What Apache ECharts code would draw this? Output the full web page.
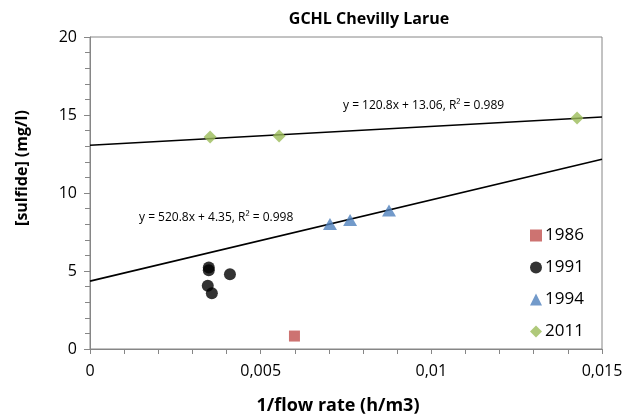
<!DOCTYPE html>
<html><head><meta charset="utf-8">
<script src="https://cdn.jsdelivr.net/npm/echarts@6/dist/echarts.min.js"></script>
<style>html,body{margin:0;padding:0;background:#fff}#c{width:629px;height:419px}</style>
</head><body><div id="c"></div>
<script>
var s1986 = [[0.00599, 0.83]];
var s1991 = [[0.00348, 5.22], [0.00348, 5.05], [0.0041, 4.79], [0.00345, 4.06], [0.00357, 3.57]];
var s1994 = [[0.00703, 8.01], [0.00762, 8.27], [0.00876, 8.88]];
var s2011 = [[0.00352, 13.59], [0.00554, 13.65], [0.01427, 14.81]];
var fit2011 = {slope: 120.8, intercept: 13.06, r2: 0.989};
var fit1994 = {slope: 520.8, intercept: 4.35, r2: 0.998};
var xTicks = ['0', '0,005', '0,01', '0,015'];
var xRange = [0, 0.015];
function line(f){ return xRange.map(function(x){ return [x, f.slope*x + f.intercept]; }); }
function eq(f){ return 'y = ' + f.slope + 'x + ' + f.intercept + ', R² = ' + f.r2; }
var FONT = 'Open Sans, Liberation Sans, sans-serif';
var chart = echarts.init(document.getElementById('c'));
chart.setOption({
  animation: false,
  textStyle: {fontFamily: FONT},
  title: {text: 'GCHL Chevilly Larue', left: 364, top: 6, textAlign: 'center',
    textStyle: {fontSize: 16, fontWeight: 'bold', color: '#000', fontFamily: FONT}},
  grid: {left: 90, right: 27, top: 37, bottom: 70, show: true, borderColor: '#868686', borderWidth: 1},
  xAxis: {type: 'value', min: 0, max: 0.015, interval: 0.005,
    axisLine: {lineStyle: {color: '#868686'}},
    axisTick: {show: true, length: 5, lineStyle: {color: '#868686'}},
    minorTick: {show: true, splitNumber: 5, length: 5, lineStyle: {color: '#868686'}},
    splitLine: {show: false},
    axisLabel: {fontSize: 16, color: '#000', margin: 14,
      formatter: function(v){ var i = Math.round(v/0.005); return xTicks[i] !== undefined ? xTicks[i] : ''; }}},
  yAxis: {type: 'value', min: 0, max: 20, interval: 5,
    axisLine: {show: true, lineStyle: {color: '#868686'}},
    axisTick: {show: true, length: 6, lineStyle: {color: '#868686'}},
    minorTick: {show: true, splitNumber: 5, length: 5, lineStyle: {color: '#868686'}},
    splitLine: {show: false},
    axisLabel: {fontSize: 16, color: '#000', margin: 13}},
  legend: {orient: 'vertical', left: 525, top: 222, itemGap: 15, itemWidth: 12, itemHeight: 12,
    data: ['1986', '1991', '1994', '2011'],
    textStyle: {fontSize: 17, color: '#000', padding: [0, 0, 0, -2]}},
  graphic: [
    {type: 'text', x: 338, y: 406, style: {text: '1/flow rate (h/m3)', fontSize: 18, fontWeight: 'bold', fill: '#000', fontFamily: FONT, align: 'center', verticalAlign: 'middle'}},
    {type: 'text', x: 22, y: 168, rotation: Math.PI/2, style: {text: '[sulfide] (mg/l)', fontSize: 16, fontWeight: 'bold', fill: '#000', fontFamily: FONT, align: 'center', verticalAlign: 'middle'}},
    {type: 'text', left: 343, top: 100, style: {text: eq(fit2011), fontSize: 12, fill: '#000', fontFamily: FONT}},
    {type: 'text', left: 139, top: 212, style: {text: eq(fit1994), fontSize: 12, fill: '#000', fontFamily: FONT}}
  ],
  series: [
    {name: 'trend2011', type: 'line', data: line(fit2011), showSymbol: false, silent: true,
      lineStyle: {color: '#000', width: 1.6}, z: 1},
    {name: 'trend1994', type: 'line', data: line(fit1994), showSymbol: false, silent: true,
      lineStyle: {color: '#000', width: 1.6}, z: 1},
    {name: '1986', type: 'scatter', data: s1986, symbol: 'rect', symbolSize: 11, itemStyle: {color: '#C0504D'}, z: 3},
    {name: '1991', type: 'scatter', data: s1991, symbol: 'circle', symbolSize: 12, itemStyle: {color: '#000'}, z: 3},
    {name: '1994', type: 'scatter', data: s1994, symbol: 'triangle', symbolSize: [14, 12], itemStyle: {color: '#4F81BD'}, z: 3},
    {name: '2011', type: 'scatter', data: s2011, symbol: 'diamond', symbolSize: 13, itemStyle: {color: '#9BBB59'}, z: 3}
  ]
});
</script></body></html>
